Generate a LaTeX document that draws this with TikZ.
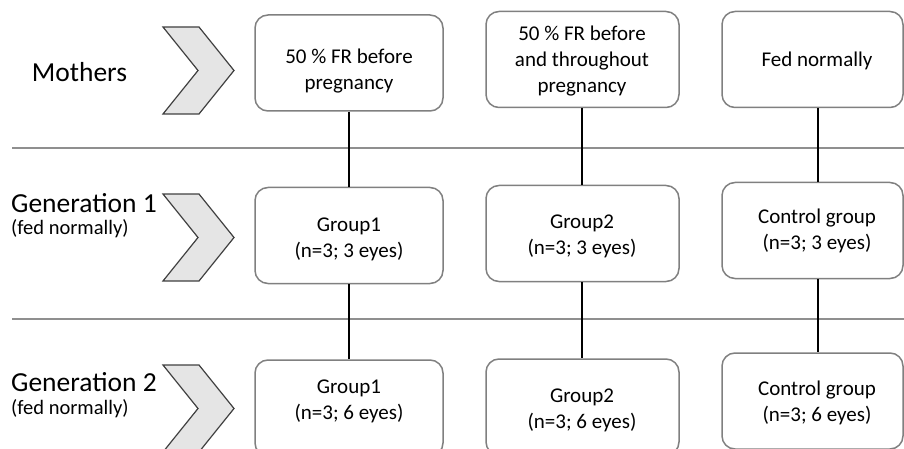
\documentclass[tikz,border=0pt]{standalone}
\usepackage{fontspec}
\setmainfont{Carlito}

\newlength{\du}
\setlength{\du}{1pt}

\definecolor{boxlinecolor}{rgb}{0.500000, 0.500000, 0.500000}
\definecolor{rowlinecolor}{rgb}{0.560000, 0.560000, 0.560000}
\definecolor{chevfillcolor}{rgb}{0.900000, 0.900000, 0.900000}
\definecolor{chevlinecolor}{rgb}{0.250000, 0.250000, 0.250000}

\tikzset{
  groupbox/.style={draw=boxlinecolor, line width=1.5\du, rounded corners=13\du,
    fill=white, inner sep=0pt, minimum height=96\du},
  boxtext/.style={font=\fontsize{21}{26}\selectfont, align=center, inner sep=0pt},
  rowtitle/.style={font=\fontsize{27.5}{32}\selectfont, inner sep=0pt},
  rownote/.style={font=\fontsize{20.5}{24}\selectfont, inner sep=0pt},
  rowline/.style={draw=rowlinecolor, line width=1.5\du},
  chevron/.style={draw=chevlinecolor, fill=chevfillcolor, line width=1.2\du, line join=miter},
  link/.style={draw=black, line width=2.6\du}
}

\begin{document}
\begin{tikzpicture}
\pgftransformxscale{1.000000}
\pgftransformyscale{-1.000000}
\useasboundingbox (0\du,0\du) rectangle (904\du,449\du);
\clip (0\du,0\du) rectangle (904\du,449\du);
% row separators
\draw[rowline] (12\du,148\du)--(904\du,148\du);
\draw[rowline] (12\du,319\du)--(904\du,319\du);
% chevrons
\foreach \t in {27,194,365}{
  \draw[chevron] (163\du,\t\du)--(199\du,\t\du)--(234\du,\t\du+43.5\du)--(199\du,\t\du+87\du)
    --(163\du,\t\du+87\du)--(198\du,\t\du+43.5\du)--cycle;
}
% row titles
\node[rowtitle] (mothers) at (79.5\du,72.5\du){Mothers};
\node[rowtitle, anchor=west] (genone) at (11\du,203\du){Generation 1};
\node[rownote, anchor=west] (fedone) at (11\du,229\du){(fed normally)};
\node[rowtitle, anchor=west] (gentwo) at (11\du,382.5\du){Generation 2};
\node[rownote, anchor=west] (fedtwo) at (11\du,409\du){(fed normally)};
% mothers
\node[groupbox, minimum width=188\du] (m1) at (349\du,63\du){};
\node[boxtext] (tm1) at (349\du,71\du){50 \% FR before\\pregnancy};
\node[groupbox, minimum width=193\du] (m2) at (582.5\du,59.5\du){};
\node[boxtext] (tm2) at (582\du,61\du){50 \% FR before\\and throughout\\pregnancy};
\node[groupbox, minimum width=181\du] (m3) at (812.5\du,59.5\du){};
\node[boxtext] (tm3) at (817\du,61\du){Fed normally};
% generation 1
\node[groupbox, minimum width=188\du] (ga1) at (349\du,235.5\du){};
\node[boxtext] (tga1) at (349\du,239\du){Group1\\(n=3; 3 eyes)};
\node[groupbox, minimum width=193\du] (ga2) at (582.5\du,233.5\du){};
\node[boxtext] (tga2) at (582\du,236\du){Group2\\(n=3; 3 eyes)};
\node[groupbox, minimum width=181\du] (ga3) at (812.5\du,230.5\du){};
\node[boxtext] (tga3) at (817\du,231\du){Control group\\(n=3; 3 eyes)};
% generation 2
\node[groupbox, minimum width=188\du] (gb1) at (349\du,408\du){};
\node[boxtext] (tgb1) at (349\du,401\du){Group1\\(n=3; 6 eyes)};
\node[groupbox, minimum width=193\du] (gb2) at (582.5\du,407\du){};
\node[boxtext] (tgb2) at (582\du,410\du){Group2\\(n=3; 6 eyes)};
\node[groupbox, minimum width=181\du] (gb3) at (812.5\du,401\du){};
\node[boxtext] (tgb3) at (817\du,403\du){Control group\\(n=3; 6 eyes)};
% lineage
\draw[link] (m1.south)--(ga1.north);
\draw[link] (ga1.south)--(gb1.north);
\draw[link] ([xshift=-0.5\du]m2.south)--([xshift=-0.5\du]ga2.north);
\draw[link] ([xshift=-0.5\du]ga2.south)--([xshift=-0.5\du]gb2.north);
\draw[link] ([xshift=5.5\du]m3.south)--([xshift=5.5\du]ga3.north);
\draw[link] ([xshift=5.5\du]ga3.south)--([xshift=5.5\du]gb3.north);
\end{tikzpicture}
\end{document}
